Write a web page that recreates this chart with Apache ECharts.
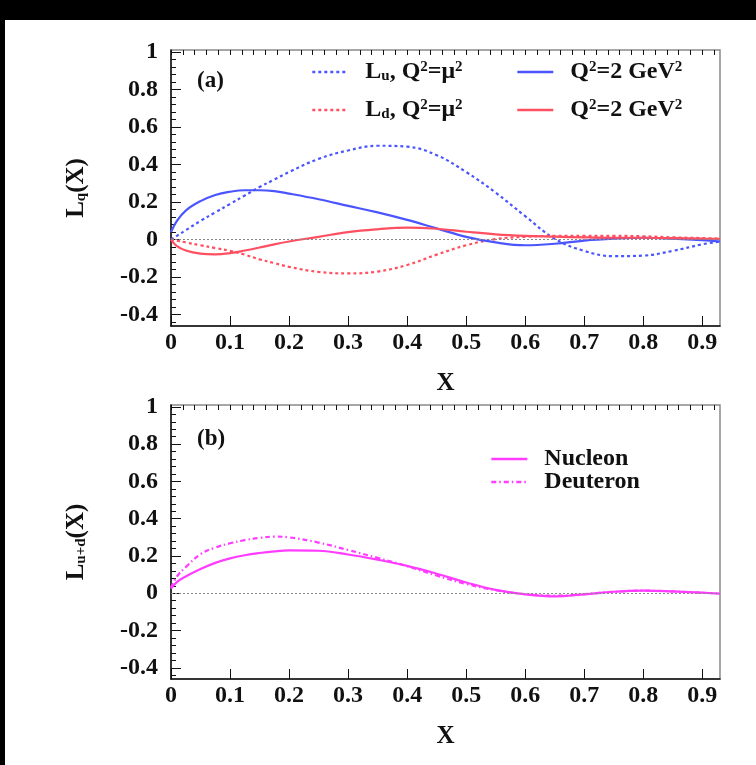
<!DOCTYPE html>
<html>
<head>
<meta charset="utf-8">
<script src="https://cdn.jsdelivr.net/npm/echarts@6/dist/echarts.min.js"></script>
<style>
  html, body { margin: 0; padding: 0; background: #fff; }
  #main { width: 756px; height: 765px; }
</style>
</head>
<body>
<div id="main"></div>
<script>
// x positions shared by all curves
const xVals = [0, 0.01, 0.025, 0.05, 0.075, 0.1, 0.125, 0.15, 0.175, 0.2, 0.25, 0.3, 0.35,
               0.4, 0.45, 0.5, 0.55, 0.6, 0.65, 0.7, 0.75, 0.8, 0.85, 0.9, 0.93];

// panel (a)
const luMu2 = [0, 0.02, 0.05, 0.10, 0.145, 0.19, 0.235, 0.28, 0.32, 0.36, 0.43, 0.475, 0.50,
               0.495, 0.45, 0.36, 0.25, 0.125, 0.005, -0.06, -0.088, -0.085, -0.06, -0.025, -0.01];
const ldMu2 = [0, -0.005, -0.015, -0.03, -0.045, -0.06, -0.08, -0.105, -0.125, -0.145, -0.172, -0.18, -0.17,
               -0.135, -0.08, -0.03, 0.003, 0.015, 0.02, 0.02, 0.02, 0.018, 0.012, 0.008, 0.005];
const luQ2 = [0.04, 0.10, 0.155, 0.205, 0.238, 0.255, 0.263, 0.263, 0.258, 0.245, 0.215, 0.18, 0.145,
              0.105, 0.06, 0.015, -0.015, -0.03, -0.022, -0.005, 0.005, 0.01, 0.005, -0.003, -0.01];
const ldQ2 = [0, -0.035, -0.058, -0.075, -0.079, -0.072, -0.058, -0.042, -0.025, -0.01, 0.015, 0.04, 0.055,
              0.064, 0.058, 0.042, 0.028, 0.02, 0.016, 0.012, 0.01, 0.01, 0.008, 0.005, 0.004];

// panel (b)
const nucleon = [0.025, 0.06, 0.09, 0.13, 0.163, 0.187, 0.204, 0.216, 0.225, 0.23, 0.228, 0.208, 0.18,
                 0.147, 0.105, 0.058, 0.018, -0.006, -0.017, -0.006, 0.008, 0.014, 0.01, 0.003, -0.002];
const deuteron = [0.03, 0.09, 0.14, 0.21, 0.245, 0.268, 0.285, 0.297, 0.304, 0.3, 0.272, 0.232, 0.19,
                  0.145, 0.095, 0.05, 0.016, -0.005, -0.013, -0.005, 0.008, 0.014, 0.01, 0.003, -0.002];

// tick labels
const xTicks = [0, 0.1, 0.2, 0.3, 0.4, 0.5, 0.6, 0.7, 0.8, 0.9];
const yTicks = [-0.4, -0.2, 0, 0.2, 0.4, 0.6, 0.8, 1];

const xMin = 0, xMax = 0.93, yMin = -0.46, yMax = 1.01;
const FONT = 'Liberation Serif';
const BLUE = '#4b55ff', RED = '#ff4f60', MAG = '#ff3cff';

function minorList(lo, hi, step) {
    let out = [];
    for (let v = lo; v <= hi + 1e-9; v += step) out.push(Math.round(v * 1000) / 1000);
    return out;
}
const xMinor = minorList(0, 0.92, 0.02);
const yMinor = minorList(-0.44, 1.0, 0.04);

function pairs(ys) {
    return xVals.map((x, i) => [x, ys[i]]);
}
function fmt(v) {
    return String(Math.round(v * 10) / 10);
}

const richText = {
    g: { width: 12 },
    t: { fontFamily: FONT, fontWeight: 'bold', fontSize: 24, color: '#111' },
    sup: { fontFamily: FONT, fontWeight: 'bold', fontSize: 15, color: '#111', verticalAlign: 'top' },
    sub: { fontFamily: FONT, fontWeight: 'bold', fontSize: 15, color: '#111', verticalAlign: 'bottom' }
};

const legendNames = {
    'Lu': '{g|}{t|L}{sub|u}{t|, Q}{sup|2}{t|=μ}{sup|2}',
    'Ld': '{g|}{t|L}{sub|d}{t|, Q}{sup|2}{t|=μ}{sup|2}',
    'Q2u': '{g|}{t|Q}{sup|2}{t|=2 GeV}{sup|2}',
    'Q2d': '{g|}{t|Q}{sup|2}{t|=2 GeV}{sup|2}',
    'Nucleon': '{g|}{t|Nucleon}',
    'Deuteron': '{g|}{t|Deuteron}'
};

function xAxisPair(gi) {
    return [{
        gridIndex: gi, type: 'value', min: xMin, max: xMax,
        name: 'X', nameLocation: 'middle', nameGap: 45,
        nameTextStyle: { fontFamily: FONT, fontWeight: 'bold', fontSize: 25, color: '#111' },
        axisLine: { show: true, onZero: false, lineStyle: { color: '#111', width: 1.5 } },
        axisTick: { show: true, inside: true, length: 10, customValues: xTicks, lineStyle: { color: '#111' } },
        axisLabel: {
            customValues: xTicks, formatter: fmt, margin: 5,
            fontFamily: FONT, fontWeight: 'bold', fontSize: 24, color: '#111'
        },
        splitLine: { show: false }
    }, {
        gridIndex: gi, type: 'value', min: xMin, max: xMax,
        axisLine: { show: false, onZero: false },
        axisTick: { show: true, inside: true, length: 5, customValues: xMinor, lineStyle: { color: '#111' } },
        axisLabel: { show: false },
        splitLine: { show: false }
    }];
}

function yAxisPair(gi, nameRich) {
    return [{
        gridIndex: gi, type: 'value', min: yMin, max: yMax,
        name: nameRich, nameLocation: 'middle', nameGap: 82, nameRotate: 90,
        nameTextStyle: { rich: {
            t: { fontFamily: FONT, fontWeight: 'bold', fontSize: 25, color: '#111' },
            sub: { fontFamily: FONT, fontWeight: 'bold', fontSize: 15, color: '#111', verticalAlign: 'bottom' }
        } },
        axisLine: { show: true, onZero: false, lineStyle: { color: '#111', width: 1.5 } },
        axisTick: { show: true, inside: true, length: 10, customValues: yTicks, lineStyle: { color: '#111' } },
        axisLabel: {
            customValues: yTicks, formatter: fmt, margin: 13,
            fontFamily: FONT, fontWeight: 'bold', fontSize: 24, color: '#111'
        },
        splitLine: { show: false }
    }, {
        gridIndex: gi, type: 'value', min: yMin, max: yMax, position: 'left',
        axisLine: { show: false, onZero: false },
        axisTick: { show: true, inside: true, length: 5, customValues: yMinor, lineStyle: { color: '#111' } },
        axisLabel: { show: false },
        splitLine: { show: false }
    }];
}

function curve(name, ys, gi, color, type) {
    return {
        name: name, type: 'line', xAxisIndex: gi * 2, yAxisIndex: gi * 2,
        data: pairs(ys), smooth: 0.4, symbol: 'none',
        lineStyle: { color: color, width: 2.2, type: type },
        itemStyle: { color: color }
    };
}

function zeroLine(gi) {
    return {
        type: 'line', xAxisIndex: gi * 2, yAxisIndex: gi * 2, data: [], symbol: 'none',
        silent: true,
        markLine: {
            silent: true, symbol: 'none', label: { show: false },
            lineStyle: { color: '#888', width: 1.2, type: [2, 2] },
            data: [{ yAxis: 0 }]
        }
    };
}

const legendBase = {
    orient: 'vertical', itemWidth: 36, itemHeight: 14, itemGap: 14, padding: 0,
    selectedMode: false,
    itemStyle: { opacity: 0 },
    lineStyle: { width: 2.6 },
    formatter: n => legendNames[n],
    textStyle: { rich: richText }
};

let chart = echarts.init(document.getElementById('main'));
let option = {
    backgroundColor: '#fff',
    animation: false,
    grid: [
        { left: 171, top: 50, width: 549, height: 276, show: true, borderColor: '#8a8a8a', borderWidth: 1.5, backgroundColor: '#fff' },
        { left: 171, top: 405, width: 549, height: 274, show: true, borderColor: '#8a8a8a', borderWidth: 1.5, backgroundColor: '#fff' }
    ],
    xAxis: xAxisPair(0).concat(xAxisPair(1)),
    yAxis: yAxisPair(0, '{t|L}{sub|q}{t|(X)}').concat(yAxisPair(1, '{t|L}{sub|u+d}{t|(X)}')),
    legend: [
        Object.assign({}, legendBase, { left: 311, top: 60, data: ['Lu', 'Ld'] }),
        Object.assign({}, legendBase, { left: 516, top: 60, data: ['Q2u', 'Q2d'] }),
        Object.assign({}, legendBase, { left: 490, top: 447, itemGap: -1, data: ['Nucleon', 'Deuteron'] })
    ],
    graphic: [
        { type: 'rect', left: 0, top: 0, shape: { width: 756, height: 20 }, style: { fill: '#000' } },
        { type: 'rect', left: 0, top: 0, shape: { width: 5, height: 765 }, style: { fill: '#000' } },
        { type: 'text', left: 197, top: 70, style: { text: '(a)', font: 'bold 23px "Liberation Serif"', fill: '#111' } },
        { type: 'text', left: 197, top: 428, style: { text: '(b)', font: 'bold 23px "Liberation Serif"', fill: '#111' } }
    ],
    series: [
        zeroLine(0),
        zeroLine(1),
        curve('Lu', luMu2, 0, BLUE, [3, 3]),
        curve('Ld', ldMu2, 0, RED, [3, 3]),
        curve('Q2u', luQ2, 0, BLUE, 'solid'),
        curve('Q2d', ldQ2, 0, RED, 'solid'),
        curve('Nucleon', nucleon, 1, MAG, 'solid'),
        curve('Deuteron', deuteron, 1, MAG, [5, 3, 1.5, 3])
    ]
};
chart.setOption(option);
</script>
</body>
</html>
